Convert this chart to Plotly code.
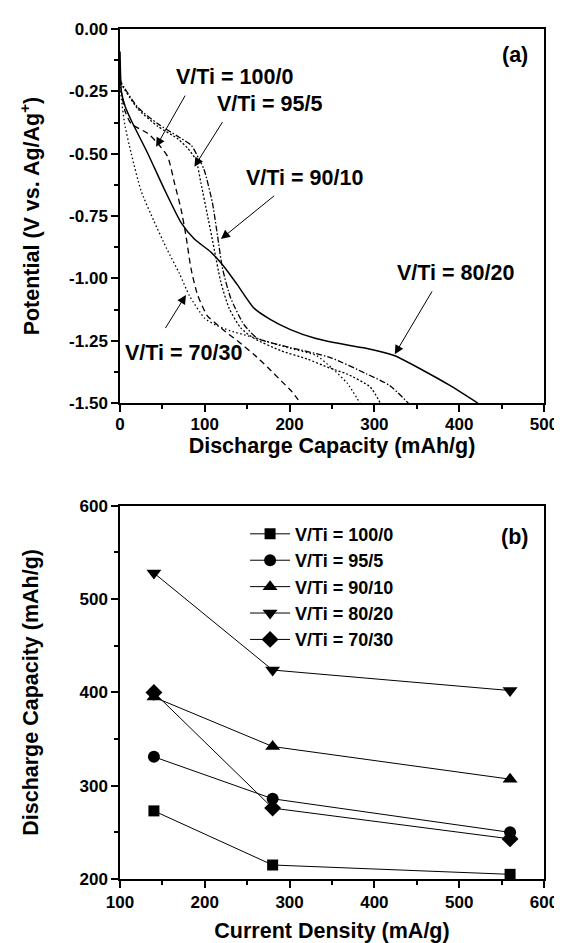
import plotly.graph_objects as go

# ---------------- Panel (a): discharge curves ----------------
cap_8020 = [0, 0.8, 1.6, 6, 13.3, 32.9, 52.5, 72, 87.7, 107, 123, 138.5, 158, 177.6, 201, 230, 252, 290, 324, 357.6, 389, 422]
pot_8020 = [-0.09, -0.2, -0.25, -0.31, -0.367, -0.5, -0.644, -0.776, -0.842, -0.894, -0.954, -1.026, -1.119, -1.165, -1.205, -1.24, -1.257, -1.28, -1.31, -1.369, -1.429, -1.5]

cap_1000 = [0, 1.5, 6, 13.3, 32.9, 44.6, 56.3, 64.2, 72, 77.8, 83.7, 91.5, 103, 111, 125, 138.5, 158, 174, 190, 203, 213]
pot_1000 = [-0.2, -0.25, -0.33, -0.38, -0.419, -0.459, -0.512, -0.617, -0.723, -0.829, -0.96, -1.066, -1.15, -1.175, -1.215, -1.25, -1.305, -1.356, -1.41, -1.455, -1.5]

cap_7030 = [0, 1.5, 5.5, 13.3, 25, 40, 55, 70, 82, 100, 115, 130, 158, 197, 232, 250, 268, 283]
pot_7030 = [-0.2, -0.275, -0.38, -0.5, -0.65, -0.77, -0.88, -0.98, -1.07, -1.16, -1.19, -1.21, -1.237, -1.277, -1.31, -1.36, -1.42, -1.5]

cap_955 = [0, 1.5, 21, 44.6, 68, 79.8, 89.6, 95.4, 103.3, 111, 118.8, 128.6, 142.3, 158, 190, 220.7, 248, 267.6, 295, 307]
pot_955 = [-0.2, -0.22, -0.32, -0.39, -0.44, -0.478, -0.525, -0.617, -0.749, -0.881, -1.013, -1.119, -1.198, -1.24, -1.29, -1.323, -1.36, -1.383, -1.435, -1.5]

cap_9010 = [0, 1.5, 21, 44.6, 68, 84, 93, 99.3, 109, 115, 120.9, 130.6, 146.2, 162, 201, 248, 291, 318, 340]
pot_9010 = [-0.2, -0.215, -0.314, -0.38, -0.43, -0.466, -0.52, -0.565, -0.697, -0.829, -0.96, -1.079, -1.185, -1.24, -1.277, -1.317, -1.383, -1.429, -1.5]

# annotation labels (text position, arrow tail, arrow tip) in data units
ann_labels = ["V/Ti = 100/0", "V/Ti = 95/5", "V/Ti = 90/10", "V/Ti = 80/20", "V/Ti = 70/30"]
ann_text_x = [135, 176, 217.5, 395.5, 75]
ann_text_y = [-0.192, -0.301, -0.598, -0.98, -1.297]
ann_tail_x = [77.8, 122, 183.5, 369, 52.5]
ann_tail_y = [-0.261, -0.367, -0.664, -1.046, -1.205]
ann_tip_x = [42.6, 87.7, 119, 324, 77.8]
ann_tip_y = [-0.472, -0.552, -0.842, -1.304, -1.066]

a_xticks = [0, 100, 200, 300, 400, 500]
a_yticks = [0, -0.25, -0.5, -0.75, -1.0, -1.25, -1.5]
a_yticklabels = ["0.00", "-0.25", "-0.50", "-0.75", "-1.00", "-1.25", "-1.50"]

# ---------------- Panel (b): rate capability ----------------
current_density = [140, 280, 560]
series_names = ["V/Ti = 100/0", "V/Ti = 95/5", "V/Ti = 90/10", "V/Ti = 80/20", "V/Ti = 70/30"]
cap_b_1000 = [273, 215, 205]
cap_b_955 = [331, 286, 250]
cap_b_9010 = [395, 342, 307]
cap_b_8020 = [528, 424, 402]
cap_b_7030 = [400, 276, 243]
b_xticks = [100, 200, 300, 400, 500, 600]
b_yticks = [200, 300, 400, 500, 600]

FONT = "Liberation Sans, Arial, sans-serif"
BLACK = "#000000"

fig = go.Figure()

# panel (a) curves
curves = [
    (cap_1000, pot_1000, "6px,4px"),
    (cap_955, pot_955, "2px,2px"),
    (cap_9010, pot_9010, "6px,2px,1.5px,2px"),
    (cap_8020, pot_8020, "solid"),
    (cap_7030, pot_7030, "1.5px,2.5px"),
]
for cx, cy, dash in curves:
    fig.add_trace(go.Scatter(x=cx, y=cy, mode="lines", xaxis="x", yaxis="y",
                             line=dict(color=BLACK, width=1.5 if dash == "solid" else 1.3,
                                       dash=dash, shape="spline", smoothing=0.6),
                             showlegend=False, hoverinfo="skip"))

# panel (b) series
b_series = [cap_b_1000, cap_b_955, cap_b_9010, cap_b_8020, cap_b_7030]
b_symbols = ["square", "circle", "triangle-up", "triangle-down", "diamond"]
b_sizes = [11, 12, 13, 13, 13]
for name, vals, sym, sz in zip(series_names, b_series, b_symbols, b_sizes):
    fig.add_trace(go.Scatter(x=current_density, y=vals, mode="lines+markers",
                             xaxis="x2", yaxis="y2", name=name,
                             line=dict(color=BLACK, width=1),
                             marker=dict(symbol=sym, size=sz, color=BLACK)))

# annotations panel (a)
for lab, tx, ty, ax_, ay_, px, py in zip(ann_labels, ann_text_x, ann_text_y,
                                          ann_tail_x, ann_tail_y, ann_tip_x, ann_tip_y):
    fig.add_annotation(x=tx, y=ty, xref="x", yref="y", text=lab, showarrow=False,
                       font=dict(family=FONT, size=21.5, color=BLACK, weight="bold"))
    fig.add_annotation(x=px, y=py, ax=ax_, ay=ay_, xref="x", yref="y", axref="x", ayref="y",
                       text="", showarrow=True, arrowhead=2, arrowsize=1.8,
                       arrowwidth=1, arrowcolor=BLACK, standoff=0, startstandoff=0)

fig.add_annotation(x=466, y=-0.103, xref="x", yref="y", text="(a)", showarrow=False,
                   font=dict(family=FONT, size=21.5, color=BLACK, weight="bold"))
fig.add_annotation(x=565, y=566.5, xref="x2", yref="y2", text="(b)", showarrow=False,
                   font=dict(family=FONT, size=21.5, color=BLACK, weight="bold"))

tickfont = dict(family=FONT, size=17, color=BLACK, weight="bold")
titlefont = dict(family=FONT, size=21.5, color=BLACK, weight="bold")
common = dict(showline=True, linecolor=BLACK, linewidth=1.5, mirror=True,
              ticks="outside", ticklen=7, tickwidth=1.5, tickcolor=BLACK,
              showgrid=False, zeroline=False, tickfont=tickfont)
minor_x = dict(ticks="outside", ticklen=4, tickwidth=1.5, tickcolor=BLACK, dtick=50, tick0=0)

fig.update_layout(
    width=562, height=943,
    margin=dict(l=112, r=25, t=17, b=65),
    paper_bgcolor="white", plot_bgcolor="white",
    font=dict(family=FONT, color=BLACK),
    xaxis=dict(domain=[0, 1], anchor="y", range=[0, 500], tickvals=a_xticks, minor=minor_x,
               ticklabelstandoff=-2,
               title=dict(text="Discharge Capacity (mAh/g)", font=titlefont, standoff=2), **common),
    yaxis=dict(domain=[0.5598, 1], anchor="x", range=[-1.5, 0], tickvals=a_yticks,
               ticktext=a_yticklabels,
               minor=dict(ticks="outside", ticklen=4, tickwidth=1.5, tickcolor=BLACK, dtick=0.125, tick0=0),
               title=dict(text="Potential (V vs. Ag/Ag<sup>+</sup>)", font=titlefont, standoff=24), **common),
    xaxis2=dict(domain=[0, 1], anchor="y2", range=[100, 600], tickvals=b_xticks, minor=minor_x,
                title=dict(text="Current Density (mA/g)", font=titlefont, standoff=12), **common),
    yaxis2=dict(domain=[0, 0.439], anchor="x2", range=[200, 600], tickvals=b_yticks,
                minor=dict(ticks="outside", ticklen=4, tickwidth=1.5, tickcolor=BLACK, dtick=50, tick0=0),
                title=dict(text="Discharge Capacity (mAh/g)", font=titlefont, standoff=35), **common),
    legend=dict(x=0.295, y=0.4275, xanchor="left", yanchor="top", bgcolor="rgba(0,0,0,0)",
                font=dict(family=FONT, size=18, color=BLACK, weight="bold"),
                itemwidth=40, tracegroupgap=0),
    showlegend=True,
)

fig.write_html("out.html")
